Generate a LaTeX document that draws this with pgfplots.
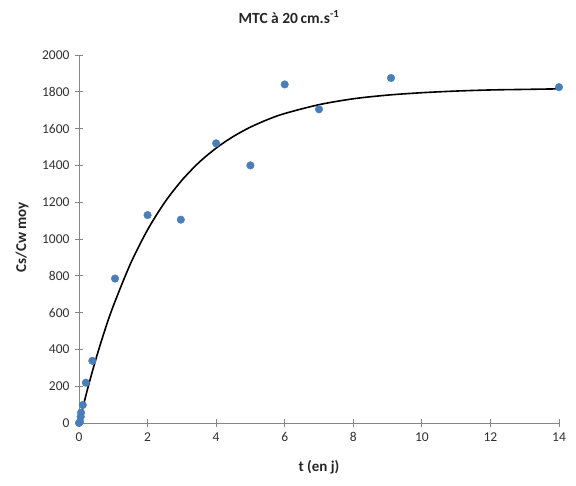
\documentclass[border=0pt]{standalone}
\usepackage{pgfplots}
\pgfplotsset{compat=1.18}
\usepackage{fontspec}
\setmainfont{Carlito}
\definecolor{dotblue}{HTML}{4A7EBB}
\definecolor{axgray}{HTML}{868686}
\definecolor{txtgray}{HTML}{303030}
\begin{document}
\begin{tikzpicture}[x=1pt,y=1pt]
\begin{axis}[
  at={(0pt,0pt)}, anchor=south west,
  scale only axis, width=480pt, height=368pt,
  xmin=0, xmax=14, ymin=0, ymax=2000,
  xtick={0,2,...,14}, ytick={0,200,...,2000},
  axis x line*=bottom, axis y line*=left,
  axis line style={axgray, line width=0.8pt},
  tick style={axgray, line width=0.8pt},
  tick align=center, major tick length=8pt,
  ticklabel style={font=\fontsize{13.5}{15}\selectfont, text=txtgray},
  /pgf/number format/assume math mode=true,
  /pgf/number format/1000 sep={},
  xticklabel style={yshift=-2pt},
  yticklabel style={xshift=-2pt},
  clip=false,
]
\addplot[black, line width=1.6pt, smooth] coordinates {
(0,0) (0.25,185) (0.5,352) (0.75,502) (1,636) (1.5,865) (2,1050) (2.5,1199)
(3,1319) (3.5,1416) (4,1494) (4.5,1557) (5,1608) (5.5,1649) (6,1682)
(7,1730) (8,1762) (9,1782) (10,1795) (11,1804) (12,1810) (13,1813) (14,1816)
};
\addplot[only marks, mark=*, mark size=3.8pt, dotblue, mark options={draw=dotblue, fill=dotblue}] coordinates {
(0,0) (0.03,7) (0.05,34) (0.06,56) (0.11,98) (0.2,219) (0.39,338)
(1.05,785) (2.0,1130) (2.97,1105) (4.0,1520) (5.0,1400) (6.0,1840)
(7.0,1705) (9.1,1875) (14,1825)
};
\end{axis}
\node[font=\fontsize{15.5}{18}\selectfont\bfseries, text=black!85] at (210pt,406pt) {MTC à 20\,cm.s\textsuperscript{-1}};
\node[font=\fontsize{15}{18}\selectfont\bfseries, text=black!85] at (240pt,-44pt) {t (en j)};
\node[font=\fontsize{15}{18}\selectfont\bfseries, text=black!85, rotate=90] at (-57pt,186pt) {Cs/Cw moy};
\path[use as bounding box] (-79pt,-63pt) rectangle (497pt,423pt);
\end{tikzpicture}
\end{document}
